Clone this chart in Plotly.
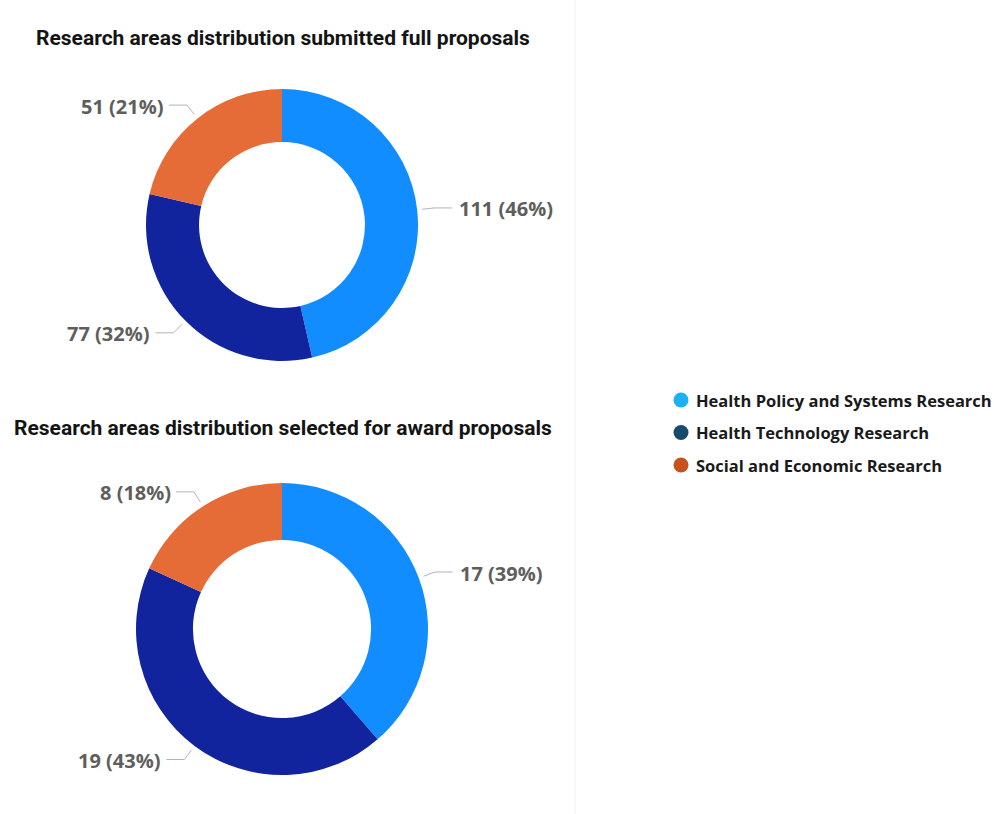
import math
import plotly.graph_objects as go

# Research area categories and proposal counts
areas = ["Health Policy and Systems Research", "Health Technology Research", "Social and Economic Research"]
submitted_counts = [111, 77, 51]
awarded_counts = [17, 19, 8]

titles = [
    "Research areas distribution submitted full proposals",
    "Research areas distribution selected for award proposals",
]

slice_colors = ["#118DFF", "#12239E", "#E66C37"]
legend_colors = ["#1AB2F2", "#184B6B", "#C8521C"]

W, H = 994, 814


def px_x(x):
    return x / W


def px_y(y):
    return 1 - y / H


# Pixel layout of each donut: centre x, centre y, outer radius, title x, title y
donuts = [
    dict(values=submitted_counts, cx=282, cy=225, r=136, tx=34, ty=38),
    dict(values=awarded_counts, cx=282, cy=629, r=146, tx=12, ty=428),
]

fig = go.Figure()
shapes = []
annotations = []

for d, title in zip(donuts, titles):
    cx, cy, r = d["cx"], d["cy"], d["r"]
    fig.add_trace(go.Pie(
        labels=areas,
        values=d["values"],
        hole=0.61,
        sort=False,
        direction="clockwise",
        rotation=0,
        textinfo="none",
        marker=dict(colors=slice_colors, line=dict(width=0)),
        showlegend=False,
        domain=dict(x=[px_x(cx - r), px_x(cx + r)], y=[px_y(cy + r), px_y(cy - r)]),
    ))

    annotations.append(dict(
        text=f"<b>{title}</b>", x=px_x(d["tx"]), y=px_y(d["ty"]), xref="paper", yref="paper",
        xanchor="left", yanchor="middle", showarrow=False,
        font=dict(family="Roboto", size=21, color="#141414"),
    ))

    # Outside data labels with leader lines at each slice's mid-angle
    total = sum(d["values"])
    cum = 0
    for v in d["values"]:
        mid = (cum + v / 2) / total * 2 * math.pi
        cum += v
        s, c = math.sin(mid), math.cos(mid)
        x0, y0 = cx + (r + 5) * s, cy - (r + 5) * c
        x1, y1 = cx + (r + 17) * s, cy - (r + 17) * c
        side = 1 if s >= 0 else -1
        x2 = x1 + side * 18
        shapes.append(dict(
            type="path", xref="paper", yref="paper",
            path=f"M {px_x(x0)},{px_y(y0)} L {px_x(x1)},{px_y(y1)} L {px_x(x2)},{px_y(y1)}",
            line=dict(color="#b3b3b3", width=1),
        ))
        pct = round(v / total * 100)
        gap = 5 if side > 0 else 3
        annotations.append(dict(
            text=f"<b>{v} ({pct}%)</b>", x=px_x(x2 + side * gap), y=px_y(y1 + 1),
            xref="paper", yref="paper", xanchor="left" if side > 0 else "right",
            yanchor="middle", showarrow=False,
            font=dict(family="Open Sans", size=20, color="#605E5C"),
        ))

# Legend: coloured dots with bold labels
legend_x, legend_y0, legend_step, dot_d = 681, 400, 32.5, 15
for i, (name, col) in enumerate(zip(areas, legend_colors)):
    yy = legend_y0 + i * legend_step
    shapes.append(dict(
        type="circle", xref="paper", yref="paper",
        x0=px_x(legend_x - dot_d / 2), x1=px_x(legend_x + dot_d / 2),
        y0=px_y(yy + dot_d / 2), y1=px_y(yy - dot_d / 2),
        fillcolor=col, line=dict(width=0),
    ))
    annotations.append(dict(
        text=f"<b>{name}</b>", x=px_x(legend_x + 13), y=px_y(yy),
        xref="paper", yref="paper", xanchor="left", yanchor="middle", showarrow=False,
        font=dict(family="Open Sans", size=16.5, color="#1a1a1a"),
    ))

# Faint divider between the charts and the legend
shapes.append(dict(type="line", xref="paper", yref="paper", x0=px_x(575), x1=px_x(575),
                   y0=0, y1=1, line=dict(color="#f0f0f0", width=1)))

fig.update_layout(
    width=W, height=H,
    margin=dict(l=0, r=0, t=0, b=0),
    paper_bgcolor="white", plot_bgcolor="white",
    xaxis=dict(visible=False), yaxis=dict(visible=False),
    shapes=shapes,
    annotations=annotations,
    showlegend=False,
)

fig.write_html("out.html")
